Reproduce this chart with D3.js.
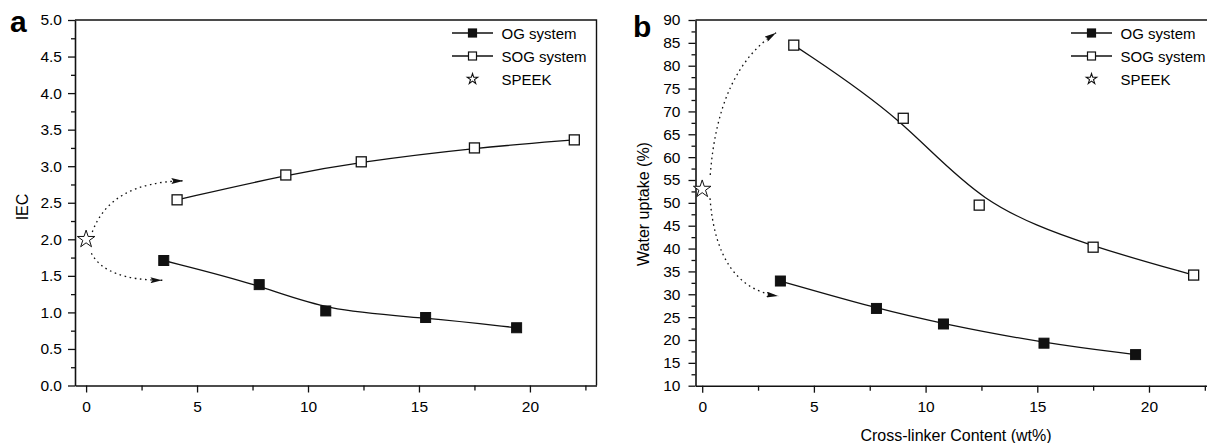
<!DOCTYPE html>
<html>
<head>
<meta charset="utf-8">
<script src="https://cdnjs.cloudflare.com/ajax/libs/d3/7.8.5/d3.min.js"></script>
<style>
  body { margin: 0; background: #fff; }
  svg { display: block; }
  svg text { font-family: Arial, "Liberation Sans", Helvetica, sans-serif; fill: #000; }
</style>
</head>
<body>
<div id="chart"></div>
<script>
// ---- data ----
const contentOG = [3.5, 7.8, 10.8, 15.3, 19.4];
const contentSOG = [4.1, 9.0, 12.4, 17.5, 22.0];
const iecOG = [1.71, 1.38, 1.02, 0.93, 0.79];
const iecSOG = [2.54, 2.88, 3.06, 3.25, 3.36];
const iecSPEEK = 2.0;
const waterOG = [32.9, 26.9, 23.5, 19.3, 16.8];
const waterSOG = [84.5, 68.5, 49.5, 40.3, 34.2];
const waterSPEEK = 53;
const seriesNames = ["OG system", "SOG system", "SPEEK"];
const xTicks = [0, 5, 10, 15, 20];
const xMinorTicks = [2.5, 7.5, 12.5, 17.5, 22.5];
const iecTicks = [0.0, 0.5, 1.0, 1.5, 2.0, 2.5, 3.0, 3.5, 4.0, 4.5, 5.0];
const waterTicks = [10, 15, 20, 25, 30, 35, 40, 45, 50, 55, 60, 65, 70, 75, 80, 85, 90];
// dotted guide arrows (start, control, end) in data units
const iecArrows = [[[0.28, 2.10], [1.09, 2.78], [4.38, 2.80]], [[0.24, 1.81], [0.87, 1.44], [3.44, 1.44]]];
const waterArrows = [[[0.36, 56.1], [0.72, 79.1], [3.31, 87.2]], [[0.35, 51.0], [0.65, 31.5], [3.4, 29.6]]];

const W = 1207, H = 443;
const ink = "#111";

const svg = d3.select("#chart").append("svg")
  .attr("width", W)
  .attr("height", H);

svg.append("defs").append("marker")
  .attr("id", "head")
  .attr("viewBox", "0 0 12 6")
  .attr("refX", 12).attr("refY", 3)
  .attr("markerWidth", 12).attr("markerHeight", 6)
  .attr("markerUnits", "userSpaceOnUse")
  .attr("orient", "auto")
  .append("path")
  .attr("d", "M0,0 L12,3 L0,6 L2,3 Z")
  .attr("fill", ink);

function drawPanel(p) {
  const x = d3.scaleLinear().domain(p.xDomain).range(p.xRange);
  const y = d3.scaleLinear().domain(p.yDomain).range(p.yRange);
  const g = svg.append("g");

  // minor ticks
  g.append("g")
    .attr("transform", `translate(0,${p.yRange[0]})`)
    .call(d3.axisBottom(x).tickValues(xMinorTicks).tickSize(5).tickFormat(""))
    .call(a => a.select(".domain").remove());
  g.append("g")
    .attr("transform", `translate(${p.xRange[0]},0)`)
    .call(d3.axisLeft(y).tickValues(p.yMinor).tickSize(4).tickFormat(""))
    .call(a => a.select(".domain").remove());

  // major axes
  const xAx = g.append("g")
    .attr("transform", `translate(0,${p.yRange[0]})`)
    .call(d3.axisBottom(x).tickValues(xTicks).tickSize(7).tickSizeOuter(0).tickPadding(8));
  const yAx = g.append("g")
    .attr("transform", `translate(${p.xRange[0]},0)`)
    .call(d3.axisLeft(y).tickValues(p.yTicks).tickSize(7).tickSizeOuter(0).tickPadding(p.yPad)
      .tickFormat(p.yFormat));
  [xAx, yAx].forEach(a => {
    a.attr("font-family", null);
    a.selectAll("text").style("font-size", "15.5px");
    a.select(".domain").attr("stroke", ink).attr("stroke-width", 1.6);
  });
  g.selectAll(".tick line").attr("stroke", ink).attr("stroke-width", 1.3);

  // top and right frame
  g.append("path")
    .attr("d", `M${p.xRange[0]},${p.yRange[1]} H${p.xRange[1]} V${p.yRange[0]}`)
    .attr("fill", "none").attr("stroke", ink).attr("stroke-width", 1.4);

  // dotted guide arrows
  p.arrows.forEach(a => {
    const [s, c, e] = a.map(d => [x(d[0]), y(d[1])]);
    g.append("path")
      .attr("d", `M${s[0]},${s[1]} Q${c[0]},${c[1]} ${e[0]},${e[1]}`)
      .attr("fill", "none").attr("stroke", ink).attr("stroke-width", 1.3)
      .attr("stroke-dasharray", "1.6,3.6")
      .attr("marker-end", "url(#head)");
  });

  // smoothed curves
  const curve = d3.line().x(d => x(d[0])).y(d => y(d[1])).curve(d3.curveBasis);
  const og = d3.zip(contentOG, p.og);
  const sog = d3.zip(contentSOG, p.sog);
  [og, sog].forEach(s => g.append("path").attr("d", curve(s))
    .attr("fill", "none").attr("stroke", ink).attr("stroke-width", 1.3));

  // markers
  const sq = 10;
  g.selectAll(".og").data(og).join("rect")
    .attr("x", d => x(d[0]) - sq / 2).attr("y", d => y(d[1]) - sq / 2)
    .attr("width", sq).attr("height", sq)
    .attr("fill", ink).attr("stroke", ink).attr("stroke-width", 1);
  g.selectAll(".sog").data(sog).join("rect")
    .attr("x", d => x(d[0]) - sq / 2).attr("y", d => y(d[1]) - sq / 2)
    .attr("width", sq).attr("height", sq)
    .attr("fill", "#fff").attr("stroke", ink).attr("stroke-width", 1.3);
  g.append("path")
    .attr("d", d3.symbol(d3.symbolStar, 95)())
    .attr("transform", `translate(${x(0)},${y(p.speek)})`)
    .attr("fill", "#fff").attr("stroke", ink).attr("stroke-width", 1);

  // legend
  const lg = g.append("g").attr("transform", `translate(${p.legend[0]},${p.legend[1]})`);
  seriesNames.forEach((name, i) => {
    const row = lg.append("g").attr("transform", `translate(0,${i * 23})`);
    if (i < 2) {
      row.append("line").attr("x1", 0).attr("x2", 41)
        .attr("stroke", ink).attr("stroke-width", 1.3);
      row.append("rect").attr("x", 16.5).attr("y", -4).attr("width", 8).attr("height", 8)
        .attr("fill", i === 0 ? ink : "#fff").attr("stroke", ink).attr("stroke-width", 1.2);
    } else {
      row.append("path").attr("d", d3.symbol(d3.symbolStar, 34)())
        .attr("transform", "translate(20.5,0)")
        .attr("fill", "#fff").attr("stroke", ink).attr("stroke-width", 1.1);
    }
    row.append("text").attr("x", 49.5).attr("y", 5.5).style("font-size", "15px").text(name);
  });

  // panel letter
  g.append("text").attr("x", p.letter[0]).attr("y", p.letter[1])
    .style("font-size", "30px").style("font-weight", "bold").text(p.name);

  // y title
  g.append("text")
    .attr("transform", `translate(${p.yTitle[0]},${p.yTitle[1]}) rotate(-90)`)
    .attr("text-anchor", "middle").style("font-size", "16px").text(p.yLabel);

  return x;
}

drawPanel({
  name: "a",
  xDomain: [-0.5, 23], xRange: [75, 596.5],
  yDomain: [0, 5], yRange: [385.5, 20],
  yTicks: iecTicks, yMinor: iecTicks.map(v => v + 0.25).filter(v => v < 5),
  yFormat: d3.format(".1f"), yPad: 6,
  og: iecOG, sog: iecSOG, speek: iecSPEEK,
  arrows: iecArrows,
  legend: [452, 33],
  letter: [10, 32],
  yTitle: [28, 207], yLabel: "IEC"
});

drawPanel({
  name: "b",
  xDomain: [-0.3, 23], xRange: [695.5, 1216],
  yDomain: [10, 90], yRange: [385.7, 20],
  yTicks: waterTicks, yMinor: waterTicks.map(v => v + 2.5).filter(v => v < 90),
  yFormat: d3.format("d"), yPad: 8,
  og: waterOG, sog: waterSOG, speek: waterSPEEK,
  arrows: waterArrows,
  legend: [1071, 33],
  letter: [633, 37],
  yTitle: [649, 204], yLabel: "Water uptake (%)"
});

svg.append("text")
  .attr("x", 956).attr("y", 441)
  .attr("text-anchor", "middle").style("font-size", "16px")
  .text("Cross-linker Content (wt%)");
</script>
</body>
</html>
